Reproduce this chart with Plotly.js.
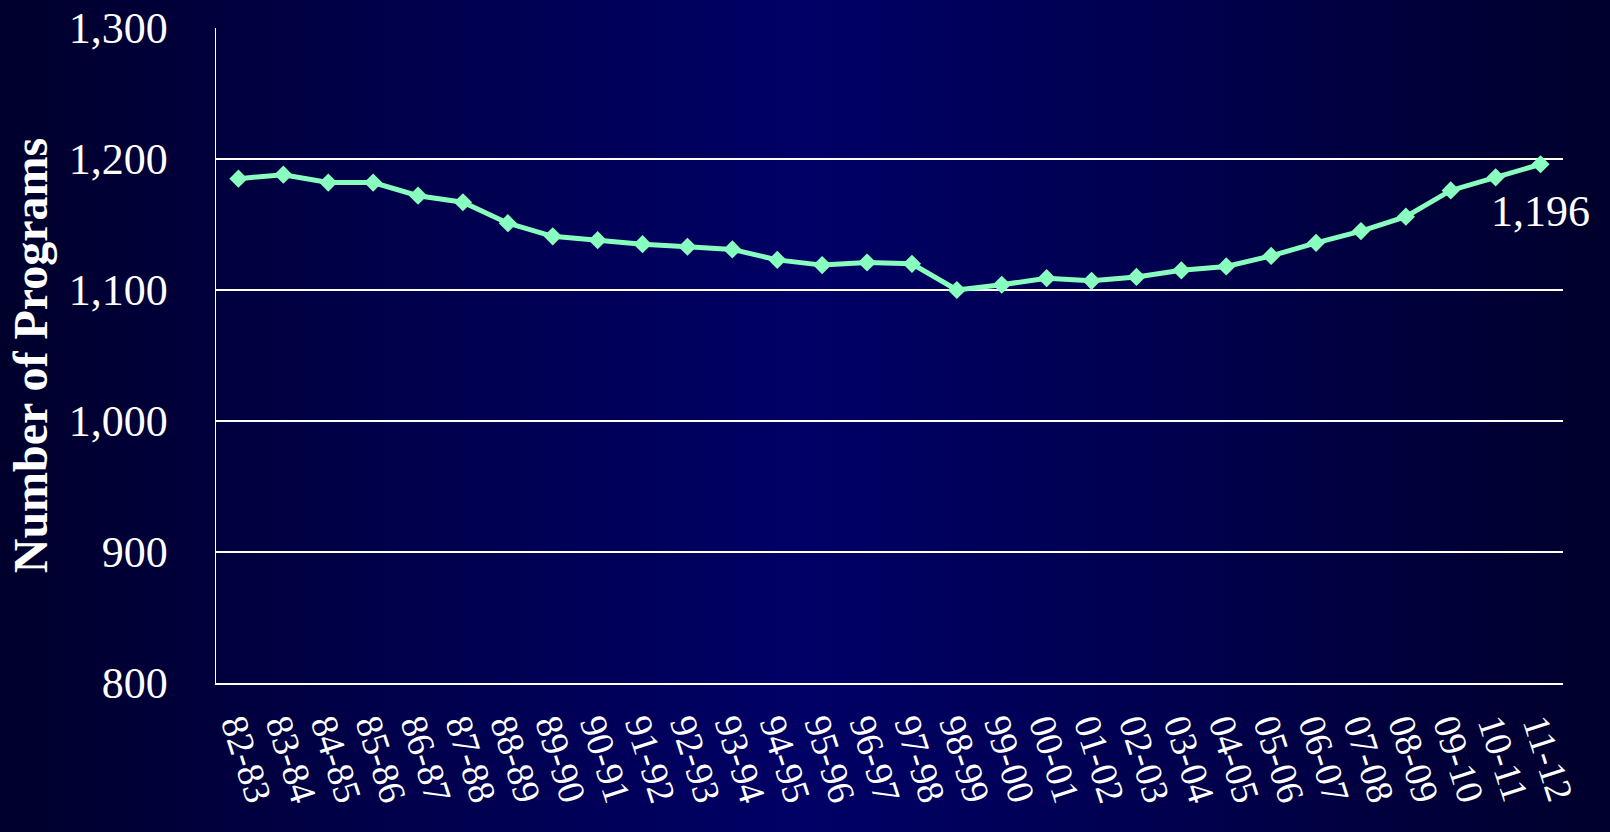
<!DOCTYPE html>
<html>
<head>
<meta charset="utf-8">
<script src="https://cdn.plot.ly/plotly-3.0.1.min.js"></script>
<style>
  html, body { margin: 0; padding: 0; width: 1610px; height: 832px; overflow: hidden; }
  body { background: linear-gradient(to right, #00002c 0%, #00004c 25%, #000066 50%, #00004c 75%, #00002c 100%); }
  #chart { width: 1610px; height: 832px; }
</style>
</head>
<body>
<div id="chart"></div>
<script>
const categories = ["82-83","83-84","84-85","85-86","86-87","87-88","88-89","89-90","90-91","91-92",
  "92-93","93-94","94-95","95-96","96-97","97-98","98-99","99-00","00-01","01-02",
  "02-03","03-04","04-05","05-06","06-07","07-08","08-09","09-10","10-11","11-12"];
const programs = [1185,1188,1182,1182,1172,1167,1151,1141,1138,1135,
  1133,1131,1123,1119,1121,1120,1100,1104,1109,1107,
  1110,1115,1118,1126,1136,1145,1156,1176,1186,1196];
const yTickVals = [800, 900, 1000, 1100, 1200, 1300];
const yTickText = ["800", "900", "1,000", "1,100", "1,200", "1,300"];
const lastLabel = "1,196";

const serif = "'Liberation Serif', 'Times New Roman', Times, serif";

const trace = {
  type: "scatter",
  mode: "lines+markers",
  x: categories,
  y: programs,
  line: { color: "#88FFBE", width: 5 },
  marker: { symbol: "diamond", size: 14, color: "#88FFBE" },
  hoverinfo: "x+y"
};

const layout = {
  width: 1610,
  height: 832,
  margin: { l: 216, r: 47, t: 28, b: 149 },
  paper_bgcolor: "rgba(0,0,0,0)",
  plot_bgcolor: "rgba(0,0,0,0)",
  showlegend: false,
  font: { family: serif, color: "#FFFFFF", size: 44 },
  xaxis: {
    type: "category",
    range: [-0.5, categories.length - 0.5],
    tickmode: "array",
    tickvals: categories,
    ticktext: categories,
    tickangle: 72,
    tickfont: { family: serif, size: 38, color: "#FFFFFF" },
    showgrid: false,
    showline: true,
    linecolor: "#FFFFFF",
    linewidth: 1.5,
    ticks: "",
    ticklabelstandoff: 4,
    zeroline: false
  },
  yaxis: {
    range: [800, 1300],
    tickvals: yTickVals,
    ticktext: yTickText,
    tickfont: { family: serif, size: 44, color: "#FFFFFF" },
    showgrid: true,
    gridcolor: "#FFFFFF",
    gridwidth: 1.5,
    showline: true,
    linecolor: "#FFFFFF",
    linewidth: 1.5,
    ticks: "",
    ticklabelstandoff: 38,
    zeroline: false,
    title: {
      text: "<b>Number of Programs</b>",
      font: { family: serif, size: 48, color: "#FFFFFF" },
      standoff: 6
    }
  },
  annotations: [{
    xref: "x", yref: "y",
    x: categories[categories.length - 1],
    y: programs[programs.length - 1],
    text: lastLabel,
    showarrow: false,
    xanchor: "center",
    yanchor: "middle",
    yshift: -47,
    font: { family: serif, size: 44, color: "#FFFFFF" }
  }]
};

Plotly.newPlot("chart", [trace], layout, { displayModeBar: false, staticPlot: true });
</script>
</body>
</html>
